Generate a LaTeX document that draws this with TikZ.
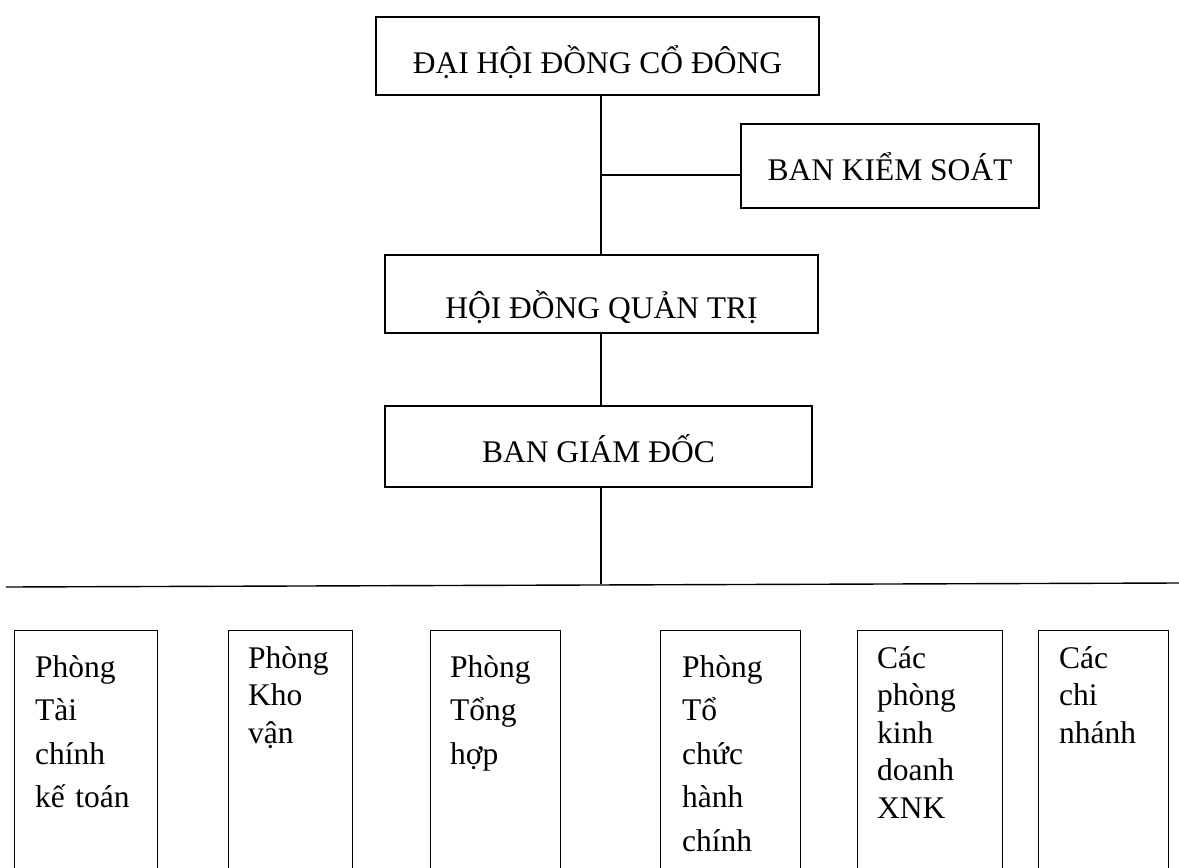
\documentclass[tikz,border=0pt]{standalone}
\usepackage{fontspec}
\setmainfont{Liberation Serif}
\begin{document}
\begin{tikzpicture}[x=1pt,y=-1pt]
\tikzset{
  orgbox/.style={draw, line width=1.4pt, inner sep=0pt, font=\fontsize{31.5}{38}\selectfont},
  unitbox/.style={draw, line width=1.4pt, inner sep=0pt, anchor=north west, minimum height=300pt},
  unittext/.style={anchor=base west, inner sep=0pt, text width=200pt, align=left},
  widelines/.style={font=\fontsize{31.5}{43.5}\selectfont},
  tightlines/.style={font=\fontsize{31.5}{37.5}\selectfont},
  link/.style={line width=1.4pt}
}
\useasboundingbox (0,0) rectangle (1179,868);
\fill[white] (0,0) rectangle (1179,868);
\clip (0,0) rectangle (1179,868);

% upper chain
\node[orgbox, minimum width=443pt, minimum height=78pt, text height=42pt, text depth=8pt] (dh) at (597.5,56) {ĐẠI HỘI ĐỒNG CỔ ĐÔNG};
\node[orgbox, minimum width=298pt, minimum height=84pt, text height=36pt, text depth=8pt] (bks) at (890,166) {BAN KIỂM SOÁT};
\node[orgbox, minimum width=433pt, minimum height=78pt, text height=56pt, text depth=8pt] (hd) at (601.5,294) {HỘI ĐỒNG QUẢN TRỊ};
\node[orgbox, minimum width=427pt, minimum height=81pt, text height=39pt, text depth=8pt] (bgd) at (598.5,446.5) {BAN GIÁM ĐỐC};

\coordinate (spine) at (601,0);
\coordinate (kj) at (601,175);
\coordinate (busL) at (6,587);
\coordinate (busR) at (1179,583);
\coordinate (busJ) at (601,584);

\draw[link] (dh.south -| spine) -- (hd.north -| spine);
\draw[link] (kj) -- (kj -| bks.west);
\draw[link] (hd.south -| spine) -- (bgd.north -| spine);
\draw[link] (bgd.south -| spine) -- (busJ);
\draw[link] (busL) -- (busR);

% departments
\node[unitbox, minimum width=143pt] (u1) at (14,630) {};
\node[unittext, widelines] (u1t) at (35,677) {Phòng\\Tài\\chính\\kế toán};

\node[unitbox, minimum width=124pt] (u2) at (228,630) {};
\node[unittext, tightlines] (u2t) at (248,668) {Phòng\\Kho\\vận};

\node[unitbox, minimum width=130pt] (u3) at (430,630) {};
\node[unittext, widelines] (u3t) at (450,677) {Phòng\\Tổng\\hợp};

\node[unitbox, minimum width=140pt] (u4) at (660,630) {};
\node[unittext, widelines] (u4t) at (682,677) {Phòng\\Tổ\\chức\\hành\\chính};

\node[unitbox, minimum width=145pt] (u5) at (857,630) {};
\node[unittext, tightlines] (u5t) at (877,668) {Các\\phòng\\kinh\\doanh\\XNK};

\node[unitbox, minimum width=130pt] (u6) at (1038,630) {};
\node[unittext, tightlines] (u6t) at (1059,668) {Các\\chi\\nhánh};
\end{tikzpicture}
\end{document}
